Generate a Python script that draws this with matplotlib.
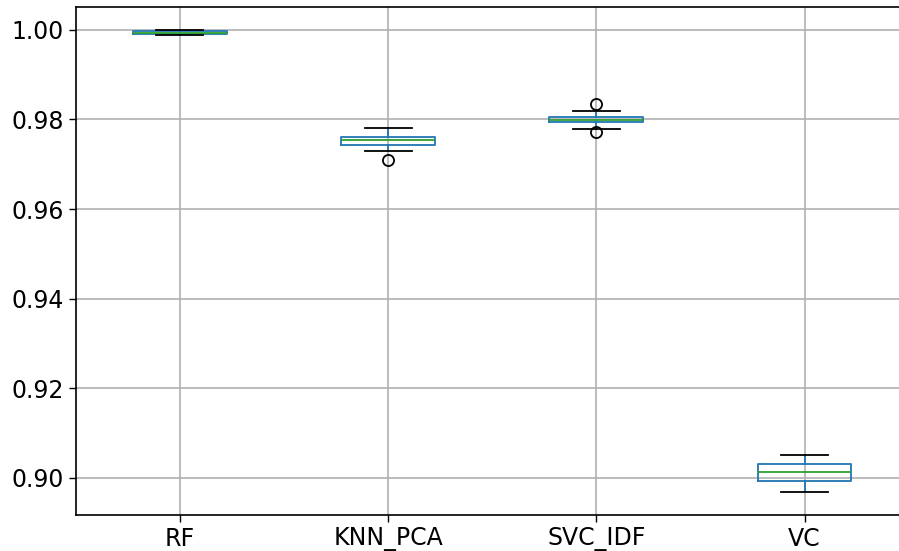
import matplotlib
matplotlib.use("Agg")
import matplotlib.pyplot as plt

# cross-validation accuracy summaries per model
models = ["RF", "KNN_PCA", "SVC_IDF", "VC"]
whisker_low = [0.99877, 0.97301, 0.97799, 0.89694]
quartile_1 = [0.99910, 0.97420, 0.97933, 0.89926]
medians = [0.99930, 0.97540, 0.97993, 0.90127]
quartile_3 = [0.99965, 0.97614, 0.98053, 0.90312]
whisker_high = [1.00000, 0.97807, 0.98194, 0.90520]
outliers = [[], [0.97100], [0.98343, 0.97718], []]

stats = []
for i, name in enumerate(models):
    stats.append({
        "label": name,
        "whislo": whisker_low[i],
        "q1": quartile_1[i],
        "med": medians[i],
        "q3": quartile_3[i],
        "whishi": whisker_high[i],
        "fliers": outliers[i],
    })

fig = plt.figure(figsize=(8.99, 5.51), dpi=100)
ax = fig.add_axes([0.0842, 0.0657, 0.9266, 0.922])

lw = 1.3
ax.bxp(
    stats,
    widths=0.45,
    boxprops=dict(color="#1f77b4", linewidth=lw),
    whiskerprops=dict(color="#1f77b4", linewidth=lw),
    capprops=dict(color="black", linewidth=lw),
    medianprops=dict(color="#2ca02c", linewidth=lw),
    flierprops=dict(marker="o", markerfacecolor="none", markeredgecolor="black",
                    markersize=8, markeredgewidth=1.3),
)

ax.set_xlim(0.5, 4.5)
ax.margins(y=0.05)
ax.autoscale(axis="y")
ax.grid(True, color="#b0b0b0", linewidth=1.2)
ax.set_axisbelow(True)
ax.tick_params(labelsize=17, length=5, width=1)
for s in ax.spines.values():
    s.set_linewidth(1.2)
ax.spines["right"].set_visible(False)

fig.savefig("out.png", dpi=100)
